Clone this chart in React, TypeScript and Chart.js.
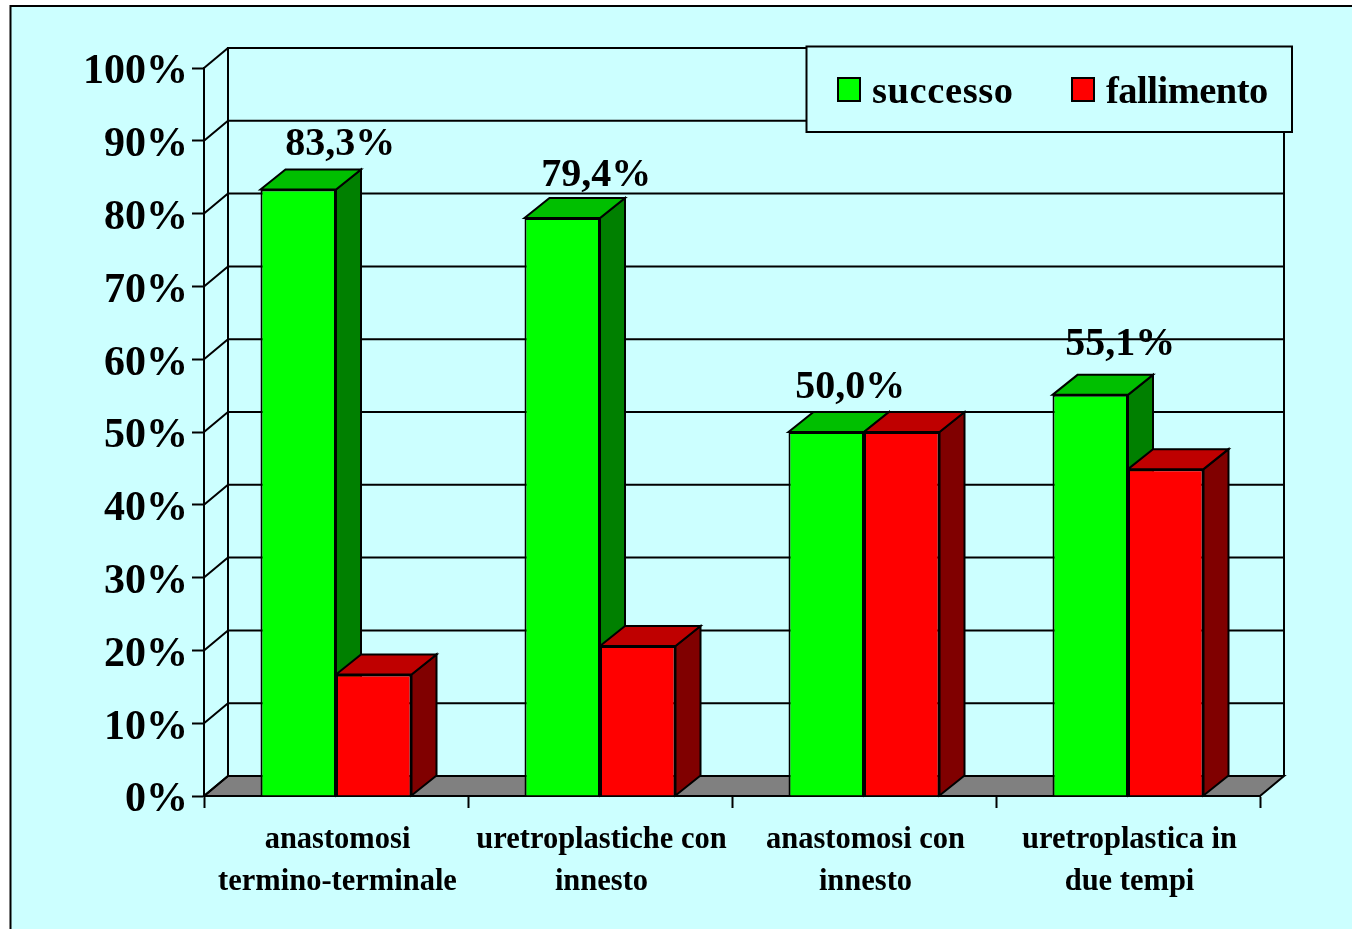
import React, { useEffect, useRef } from "react";
import { Chart, registerables } from "chart.js";

Chart.register(...registerables);

const categories = [
  ["anastomosi", "termino-terminale"],
  ["uretroplastiche con", "innesto"],
  ["anastomosi con", "innesto"],
  ["uretroplastica in", "due tempi"],
];
const successo = [83.3, 79.4, 50.0, 55.1];
const fallimento = [16.7, 20.6, 50.0, 44.9];
const yTicks = [0, 10, 20, 30, 40, 50, 60, 70, 80, 90, 100];

const SERIF = '"Liberation Serif", serif';
const CYAN = "#CCFFFF";
const INK = "#000000";
const faces = [
  { front: "#00FF00", top: "#00BF00", side: "#008000" },
  { front: "#FF0000", top: "#BF0000", side: "#800000" },
];
const WALL = { dx: 24, dy: -20 };
const BAR = { dx: 25, dy: -20 };
const valueLabelShift = [
  [42, -45],
  [34, -42],
  [24, -44],
  [30, -50],
];

function poly(ctx: CanvasRenderingContext2D, pts: number[][], fill?: string) {
  ctx.beginPath();
  pts.forEach(([x, y], i) => (i ? ctx.lineTo(x, y) : ctx.moveTo(x, y)));
  ctx.closePath();
  if (fill) {
    ctx.fillStyle = fill;
    ctx.fill();
  }
  ctx.stroke();
}

const chart3d = {
  id: "chart3d",
  beforeDraw(chart: any) {
    const { ctx, chartArea: a, scales } = chart;
    ctx.save();
    ctx.fillStyle = "#FFFFFF";
    ctx.fillRect(0, 0, chart.width, chart.height);
    ctx.fillStyle = CYAN;
    ctx.strokeStyle = INK;
    ctx.lineWidth = 2;
    ctx.fillRect(10.5, 6, chart.width, chart.height);
    ctx.strokeRect(10.5, 6, chart.width + 20, chart.height + 20);

    const { dx, dy } = WALL;
    poly(ctx, [
      [a.left, a.bottom],
      [a.left + dx, a.bottom + dy],
      [a.right + dx, a.bottom + dy],
      [a.right, a.bottom],
    ], "#808080");
    ctx.beginPath();
    ctx.moveTo(a.left + dx, a.bottom + dy);
    ctx.lineTo(a.left + dx, a.top + dy);
    ctx.lineTo(a.right + dx, a.top + dy);
    ctx.lineTo(a.right + dx, a.bottom + dy);
    ctx.stroke();
    scales.y.ticks.forEach((t: any) => {
      const y = scales.y.getPixelForValue(t.value);
      ctx.beginPath();
      ctx.moveTo(a.left, y);
      ctx.lineTo(a.left + dx, y + dy);
      if (t.value > 0 && t.value < 100) ctx.lineTo(a.right + dx, y + dy);
      ctx.stroke();
    });
    ctx.restore();
  },
  beforeDatasetsDraw(chart: any) {
    const { ctx } = chart;
    const { dx, dy } = BAR;
    ctx.save();
    ctx.strokeStyle = INK;
    ctx.lineWidth = 2;
    ctx.lineJoin = "miter";
    categories.forEach((_, j) => {
      chart.data.datasets.forEach((_d: any, i: number) => {
        const b = chart.getDatasetMeta(i).data[j];
        const l = b.x - b.width / 2;
        const r = b.x + b.width / 2;
        poly(ctx, [[r, b.base], [r + dx, b.base + dy], [r + dx, b.y + dy], [r, b.y]], faces[i].side);
        poly(ctx, [[l, b.y], [l + dx, b.y + dy], [r + dx, b.y + dy], [r, b.y]], faces[i].top);
      });
    });
    ctx.restore();
  },
  afterDatasetsDraw(chart: any) {
    const { ctx } = chart;
    ctx.save();
    ctx.fillStyle = INK;
    ctx.font = `bold 40px ${SERIF}`;
    ctx.textAlign = "center";
    ctx.textBaseline = "middle";
    successo.forEach((v, j) => {
      const b = chart.getDatasetMeta(0).data[j];
      const [sx, sy] = valueLabelShift[j];
      ctx.fillText(`${v.toFixed(1).replace(".", ",")}%`, b.x + sx, b.y + sy);
    });

    // legend
    ctx.strokeStyle = INK;
    ctx.lineWidth = 2;
    ctx.fillStyle = CYAN;
    ctx.fillRect(806.5, 46.5, 485.5, 85.5);
    ctx.strokeRect(806.5, 46.5, 485.5, 85.5);
    ctx.font = `bold 38.5px ${SERIF}`;
    ctx.textAlign = "left";
    ctx.textBaseline = "alphabetic";
    const items = [
      { box: 838, text: 872, spacing: "0.6px" },
      { box: 1072, text: 1106, spacing: "-0.5px" },
    ];
    chart.data.datasets.forEach((d: any, i: number) => {
      ctx.fillStyle = faces[i].front;
      ctx.fillRect(items[i].box, 78, 22, 23);
      ctx.strokeRect(items[i].box, 78, 22, 23);
      ctx.fillStyle = INK;
      (ctx as any).letterSpacing = items[i].spacing;
      ctx.fillText(d.label, items[i].text, 103);
    });
    ctx.restore();
  },
};

export default function App() {
  const ref = useRef<HTMLCanvasElement>(null);
  useEffect(() => {
    const chart = new Chart(ref.current as HTMLCanvasElement, {
      type: "bar",
      data: {
        labels: categories,
        datasets: [
          {
            label: "successo",
            data: successo,
            backgroundColor: faces[0].front,
            borderColor: INK,
            borderWidth: 2,
            categoryPercentage: 0.572,
            barPercentage: 1,
          },
          {
            label: "fallimento",
            data: fallimento,
            backgroundColor: faces[1].front,
            borderColor: INK,
            borderWidth: 2,
            categoryPercentage: 0.572,
            barPercentage: 1,
          },
        ],
      },
      options: {
        animation: false,
        responsive: false,
        devicePixelRatio: 1,
        layout: { padding: { top: 68, right: 92, left: 0, bottom: 0 } },
        plugins: { legend: { display: false }, tooltip: { enabled: false } },
        scales: {
          x: {
            afterFit: (s: any) => {
              s.height = 929 - 796;
            },
            grid: {
              drawOnChartArea: false,
              tickLength: 12,
              tickWidth: 2,
              tickColor: INK,
            },
            border: { display: true, color: INK, width: 2 },
            ticks: {
              color: INK,
              maxRotation: 0,
              autoSkip: false,
              padding: 11,
              labelOffset: 1.5,
              font: { family: SERIF, size: 30.5, weight: "bold", lineHeight: 1.38 },
            },
          },
          y: {
            min: 0,
            max: 100,
            afterFit: (s: any) => {
              s.width = 204;
            },
            afterBuildTicks: (s: any) => {
              s.ticks = yTicks.map((value) => ({ value }));
            },
            grid: {
              drawOnChartArea: false,
              tickLength: 12,
              tickWidth: 2,
              tickColor: INK,
            },
            border: { display: true, color: INK, width: 2 },
            ticks: {
              color: INK,
              padding: 4,
              labelOffset: 4.5,
              callback: (v: any) => `${v}%`,
              font: { family: SERIF, size: 42, weight: "bold" },
            },
          },
        },
      },
      plugins: [chart3d],
    } as any);
    return () => chart.destroy();
  }, []);
  return (
    <div style={{ position: "fixed", left: 0, top: 0, width: 1352, height: 929, overflow: "hidden" }}>
      <canvas ref={ref} width={1352} height={929} style={{ display: "block" }} />
    </div>
  );
}
